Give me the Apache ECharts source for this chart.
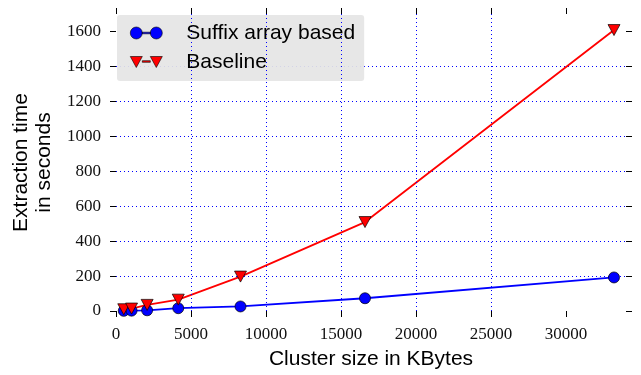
<!DOCTYPE html>
<html>
<head>
<meta charset="utf-8">
<script src="https://cdn.jsdelivr.net/npm/echarts@6/dist/echarts.min.js"></script>
<style>
html,body{margin:0;padding:0;background:#fff;}
#chart{width:641px;height:375px;}
</style>
</head>
<body>
<div id="chart"></div>
<script>
var clusterSizes = [518, 1037, 2075, 4150, 8300, 16600, 33200];
var suffixTimes = [1, 2, 4, 16, 26, 73, 192];
var baselineTimes = [10, 14, 35, 65, 197, 509, 1608];
var xTicks = [0, 5000, 10000, 15000, 20000, 25000, 30000];
var yTicks = [0, 200, 400, 600, 800, 1000, 1200, 1400, 1600];
var seriesNames = ['Suffix array based', 'Baseline'];

function pairs(xs, ys) { return xs.map(function (x, i) { return [x, ys[i]]; }); }

var circleIcon = 'path://M0,6A6,6,0,1,0,12,6A6,6,0,1,0,0,6ZM20,6A6,6,0,1,0,32,6A6,6,0,1,0,20,6ZM12,5.2L20,5.2L20,6.8L12,6.8Z';
var triIcon = 'path://M0,0L12,0L6,11ZM20,0L32,0L26,11ZM12,4.2L20,4.2L20,5.8L12,5.8Z';

function labelStyle(values) {
  return { customValues: values, margin: 15, fontFamily: 'Liberation Serif', fontSize: 17, color: '#111',
    formatter: function (v) { return String(v); } };
}
function tickStyle(values) {
  return { show: true, inside: false, length: 6, customValues: values, lineStyle: { color: '#000', width: 1 } };
}
var noLine = { show: false, onZero: false };
var gridLine = { show: true, showMinLine: false, showMaxLine: false, lineStyle: { color: '#0000ff', width: 1, type: [1, 3] } };

var G = { left: 116, right: 15, top: 14, bottom: 62 };

var chart = echarts.init(document.getElementById('chart'), null, { renderer: 'canvas' });
chart.setOption({
  animation: false,
  backgroundColor: '#ffffff',
  grid: G,
  // white band below the plot area: emulates clipping of markers at the axes' lower edge
  graphic: [{
    type: 'rect', z: 3, silent: true,
    shape: { x: G.left, y: 375 - G.bottom + 0.5, width: 641 - G.left - G.right, height: 22 },
    style: { fill: '#ffffff' }
  }],
  legend: {
    left: 117, top: 15, orient: 'vertical',
    backgroundColor: 'rgba(229,229,229,0.92)', borderRadius: 3,
    padding: [7, 9, 8, 13], itemGap: 7, itemWidth: 32, itemHeight: 12,
    textStyle: { fontFamily: 'Liberation Sans', fontSize: 21, color: '#000', lineHeight: 22, padding: [0, 0, 0, 19] },
    data: [
      { name: seriesNames[0], icon: circleIcon, itemStyle: { borderWidth: 0.6, borderColor: '#000' } },
      { name: seriesNames[1], icon: triIcon, itemStyle: { borderWidth: 0.6, borderColor: '#000' } }
    ]
  },
  xAxis: [{
    type: 'value', min: 0, max: 34000, interval: 5000, z: 4,
    name: 'Cluster size in KBytes', nameLocation: 'middle', nameGap: 38,
    nameTextStyle: { fontFamily: 'Liberation Sans', fontSize: 21, color: '#000' },
    axisLine: noLine, axisTick: tickStyle(xTicks), axisLabel: labelStyle(xTicks),
    splitLine: gridLine
  }, {
    type: 'value', position: 'top', min: 0, max: 34000, interval: 5000,
    axisLine: noLine, axisTick: tickStyle(xTicks),
    axisLabel: { show: false }, splitLine: { show: false }
  }],
  yAxis: [{
    type: 'value', min: 0, max: 1700, interval: 100,
    name: 'Extraction time\nin seconds', nameLocation: 'middle', nameGap: 55, nameRotate: 90,
    nameTextStyle: { fontFamily: 'Liberation Sans', fontSize: 21, color: '#000', lineHeight: 23, align: 'center' },
    axisLine: noLine, axisTick: tickStyle(yTicks), axisLabel: labelStyle(yTicks),
    splitLine: gridLine
  }, {
    type: 'value', position: 'right', min: 0, max: 1700, interval: 100, z: 4,
    axisLine: noLine, axisTick: tickStyle(yTicks),
    axisLabel: { show: false }, splitLine: { show: false }
  }],
  series: [{
    name: seriesNames[0], type: 'line',
    data: pairs(clusterSizes, suffixTimes),
    symbol: 'circle', symbolSize: 11,
    lineStyle: { color: '#0000ff', width: 1.8 },
    itemStyle: { color: '#0000ff', borderColor: '#000', borderWidth: 0.7 },
    emphasis: { disabled: true }
  }, {
    name: seriesNames[1], type: 'line',
    data: pairs(clusterSizes, baselineTimes),
    symbol: 'triangle', symbolRotate: 180, symbolSize: [12, 11],
    lineStyle: { color: '#ff0000', width: 1.8 },
    itemStyle: { color: '#ff0000', borderColor: '#000', borderWidth: 0.7 },
    emphasis: { disabled: true }
  }]
});
</script>
</body>
</html>
